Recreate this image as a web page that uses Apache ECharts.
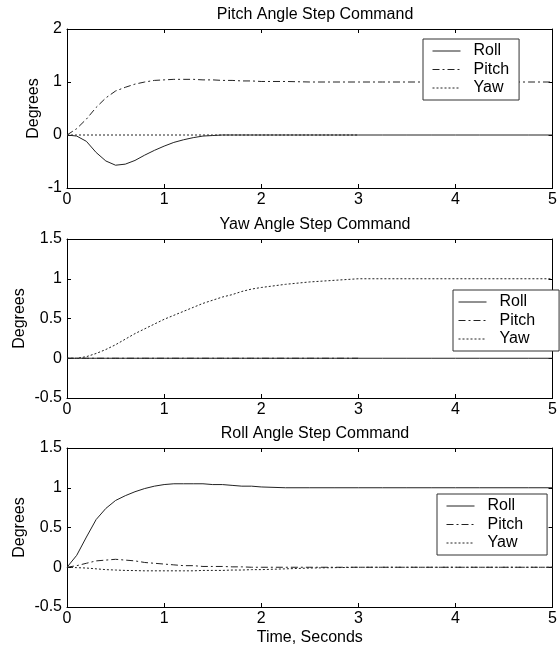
<!DOCTYPE html>
<html>
<head>
<meta charset="utf-8">
<script src="https://cdn.jsdelivr.net/npm/echarts@6/dist/echarts.min.js"></script>
<style>
  html, body { margin: 0; padding: 0; background: #fff; }
  #chart { width: 560px; height: 648px; }
</style>
</head>
<body>
<div id="chart"></div>
<script>
// time samples (seconds)
var time = [0, 0.1, 0.2, 0.3, 0.4, 0.5, 0.6, 0.7, 0.8, 0.9, 1.0,
            1.1, 1.2, 1.3, 1.4, 1.5, 1.6, 1.7, 1.8, 1.9, 2.0,
            2.25, 2.5, 2.75, 3.0, 3.25, 3.5, 3.75, 4.0, 4.25, 4.5, 4.75, 5.0];

// Pitch angle step command
var pitchStepRoll  = [0, -0.02, -0.12, -0.33, -0.49, -0.57, -0.55, -0.48, -0.38, -0.29, -0.21,
                      -0.14, -0.09, -0.05, -0.02, -0.01, 0, 0, 0, 0, 0,
                      0, 0, 0, 0, 0, 0, 0, 0, 0, 0, 0, 0];
var pitchStepPitch = [0, 0.12, 0.3, 0.52, 0.7, 0.83, 0.9, 0.96, 1.0, 1.03, 1.04,
                      1.05, 1.05, 1.05, 1.04, 1.04, 1.03, 1.03, 1.02, 1.02, 1.01,
                      1.01, 1.0, 1.0, 1.0, 1.0, 1.0, 1.0, 1.0, 1.0, 1.0, 1.0, 1.0];
var pitchStepYaw   = [0, 0, 0, 0, 0, 0, 0, 0, 0, 0, 0,
                      0, 0, 0, 0, 0, 0, 0, 0, 0, 0,
                      0, 0, 0, 0, null, null, null, null, null, null, null, null];

// Yaw angle step command
var yawStepRoll  = [0, 0, 0, 0, 0, 0, 0, 0, 0, 0, 0,
                    0, 0, 0, 0, 0, 0, 0, 0, 0, 0,
                    0, 0, 0, 0, 0, 0, 0, 0, 0, 0, 0, 0];
var yawStepPitch = [0, 0, 0, 0, 0, 0, 0, 0, 0, 0, 0,
                    0, 0, 0, 0, 0, 0, 0, 0, 0, 0,
                    0, 0, 0, 0, null, null, null, null, null, null, null, null];
var yawStepYaw   = [0, 0, 0.02, 0.06, 0.11, 0.17, 0.24, 0.31, 0.37, 0.43, 0.49,
                    0.54, 0.59, 0.64, 0.69, 0.73, 0.77, 0.8, 0.84, 0.87, 0.89,
                    0.93, 0.96, 0.98, 1.0, 1.0, 1.0, 1.0, 1.0, 1.0, 1.0, 1.0, 1.0];

// Roll angle step command
var rollStepRoll  = [0, 0.15, 0.38, 0.6, 0.74, 0.84, 0.9, 0.95, 0.99, 1.02, 1.04,
                     1.05, 1.05, 1.05, 1.05, 1.04, 1.04, 1.03, 1.02, 1.02, 1.01,
                     1.0, 1.0, 1.0, 1.0, 1.0, 1.0, 1.0, 1.0, 1.0, 1.0, 1.0, 1.0];
var rollStepPitch = [0, 0.02, 0.05, 0.08, 0.09, 0.1, 0.09, 0.08, 0.06, 0.05, 0.04,
                     0.03, 0.02, 0.02, 0.01, 0.01, 0.01, 0.005, 0.005, 0, 0,
                     0, 0, 0, 0, 0, 0, 0, 0, 0, 0, 0, 0];
var rollStepYaw   = [0, -0.005, -0.01, -0.02, -0.03, -0.035, -0.04, -0.042, -0.045, -0.045, -0.045,
                     -0.045, -0.045, -0.045, -0.04, -0.04, -0.04, -0.035, -0.035, -0.03, -0.03,
                     -0.02, -0.01, -0.005, 0, 0, 0, 0, 0, 0, 0, 0, 0];

var titles = ['Pitch Angle Step Command', 'Yaw Angle Step Command', 'Roll Angle Step Command'];
var yRanges = [[-1, 2, 1], [-0.5, 1.5, 0.5], [-0.5, 1.5, 0.5]];
var legendNames = ['Roll', 'Pitch', 'Yaw'];

var FONT = 'Liberation Sans, Arial, sans-serif';
var gridTops = [29, 239, 448];
var plotH = 159;
var yNameGaps = [25, 39, 39];

var lineStyles = {
    Roll:  { color: '#222', width: 1, type: 'solid' },
    Pitch: { color: '#222', width: 1, type: [7, 3, 2, 3] },
    Yaw:   { color: '#222', width: 1, type: [2, 2] }
};

function toPairs(vals) {
    var out = [];
    for (var i = 0; i < time.length; i++) {
        if (vals[i] !== null) out.push([time[i], vals[i]]);
    }
    return out;
}

var chart = echarts.init(document.getElementById('chart'));

var grids = [], xAxes = [], yAxes = [], series = [], titleOpts = [], legends = [];
var panelData = [
    [pitchStepRoll, pitchStepPitch, pitchStepYaw],
    [yawStepRoll, yawStepPitch, yawStepYaw],
    [rollStepRoll, rollStepPitch, rollStepYaw]
];
// legend boxes: [left, top, padding]
var legendBoxes = [
    [423, 39, [4, 10, 4, 9]],
    [453, 290, [4, 24, 4, 5]],
    [437, 494, [4, 24, 4, 9]]
];

for (var p = 0; p < 3; p++) {
    grids.push({ left: 67, right: 2, top: gridTops[p], height: plotH });

    var tickCommon = { show: true, inside: true, length: 4, lineStyle: { color: '#000' } };
    // bottom x axis (labels) and top x axis (box + ticks only)
    xAxes.push({
        gridIndex: p, type: 'value', min: 0, max: 5, interval: 1,
        axisLine: { show: true, onZero: false, lineStyle: { color: '#000', width: 1 } },
        axisTick: tickCommon,
        axisLabel: { color: '#000', fontSize: 16, fontFamily: FONT, margin: 4 },
        splitLine: { show: false },
        name: p === 2 ? 'Time, Seconds' : '',
        nameLocation: 'middle', nameGap: 23,
        nameTextStyle: { color: '#000', fontSize: 16, fontFamily: FONT }
    });
    xAxes.push({
        gridIndex: p, type: 'value', position: 'top', min: 0, max: 5, interval: 1,
        axisLine: { show: true, onZero: false, lineStyle: { color: '#000', width: 1 } },
        axisTick: tickCommon, axisLabel: { show: false }, splitLine: { show: false }
    });
    yAxes.push({
        gridIndex: p, type: 'value', min: yRanges[p][0], max: yRanges[p][1], interval: yRanges[p][2],
        axisLine: { show: true, onZero: false, lineStyle: { color: '#000', width: 1 } },
        axisTick: tickCommon,
        axisLabel: { color: '#000', fontSize: 16, fontFamily: FONT, margin: 5 },
        splitLine: { show: false },
        name: 'Degrees', nameLocation: 'middle', nameGap: yNameGaps[p],
        nameMoveOverlap: false,
        nameTextStyle: { color: '#000', fontSize: 16, fontFamily: FONT }
    });
    yAxes.push({
        gridIndex: p, type: 'value', position: 'right',
        min: yRanges[p][0], max: yRanges[p][1], interval: yRanges[p][2],
        axisLine: { show: true, onZero: false, lineStyle: { color: '#000', width: 1 } },
        axisTick: tickCommon, axisLabel: { show: false }, splitLine: { show: false }
    });

    titleOpts.push({
        text: titles[p], left: 310, top: gridTops[p] - 27, textAlign: 'center',
        textStyle: { color: '#000', fontSize: 16, fontWeight: 'normal', fontFamily: FONT }
    });

    for (var s = 0; s < 3; s++) {
        var nm = legendNames[s];
        series.push({
            name: nm, type: 'line', xAxisIndex: p * 2, yAxisIndex: p * 2,
            showSymbol: false, symbol: 'none', animation: false,
            lineStyle: lineStyles[nm],
            itemStyle: { color: '#222' },
            data: toPairs(panelData[p][s])
        });
    }

    legends.push({
        orient: 'vertical', left: legendBoxes[p][0], top: legendBoxes[p][1],
        padding: legendBoxes[p][2], itemGap: 2.5, itemWidth: 28, itemHeight: 14,
        backgroundColor: '#fff', borderColor: '#333', borderWidth: 1, borderRadius: 0,
        selectedMode: false,
        itemStyle: { opacity: 0 },
        lineStyle: { width: 1 },
        textStyle: { color: '#000', fontSize: 16, fontFamily: FONT, padding: [0, 0, 0, 8] },
        data: legendNames
    });
}

chart.setOption({
    backgroundColor: '#fff',
    animation: false,
    title: titleOpts,
    legend: legends,
    grid: grids,
    xAxis: xAxes,
    yAxis: yAxes,
    series: series
});
</script>
</body>
</html>
